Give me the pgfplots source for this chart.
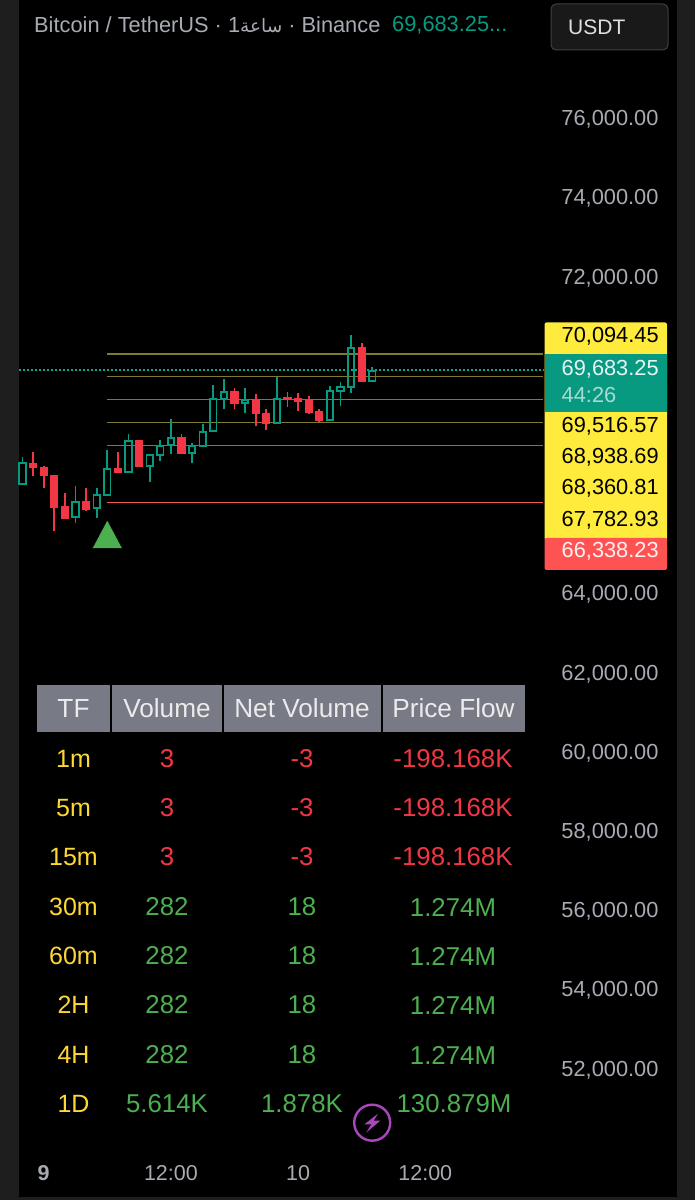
\documentclass[border=0pt]{standalone}
\usepackage{pgfplots}
\pgfplotsset{compat=1.18}
\usepackage{fontspec}
\setmainfont{Liberation Sans}
\newfontfamily\arabicfont[Script=Arabic]{DejaVu Sans}
\TeXXeTstate=1
\definecolor{cgreen}{HTML}{089981}
\definecolor{cred}{HTML}{F23645}
\definecolor{lgreen}{HTML}{4CAF50}
\definecolor{lred}{HTML}{FF5252}
\definecolor{lvl}{HTML}{F05A5A}
\definecolor{cyellow}{HTML}{FFEB3B}
\definecolor{tyellow}{HTML}{FDD835}
\definecolor{olive}{HTML}{7F7A2E}
\definecolor{tgray}{HTML}{A8ABB3}
\definecolor{hgray}{HTML}{787B86}
\definecolor{strip}{HTML}{1E1E1E}
\definecolor{purp}{HTML}{AB47BC}
\newcommand{\fs}[1]{\fontsize{#1}{#1}\selectfont}
\newcommand{\up}[5]{%
  \pgfmathsetmacro\xa{#1-0.3}\pgfmathsetmacro\xb{#1+0.3}%
  \addplot[cgreen,line width=1.8pt] coordinates {(#1,#4) (#1,#2)};
  \addplot[cgreen,line width=1.8pt] coordinates {(#1,#5) (#1,#3)};
  \addplot[draw=cgreen,line width=1.8pt] coordinates {(\xa,#2) (\xb,#2) (\xb,#5) (\xa,#5)} -- cycle;
}
\newcommand{\dn}[5]{%
  \pgfmathsetmacro\xa{#1-0.33}\pgfmathsetmacro\xb{#1+0.33}%
  \addplot[cred,line width=1.8pt] coordinates {(#1,#4) (#1,#3)};
  \addplot[draw=cred,fill=cred,line width=1.2pt] coordinates {(\xa,#2) (\xb,#2) (\xb,#5) (\xa,#5)} -- cycle;
}
\begin{document}
\begin{tikzpicture}
\fill[strip] (0,0) rectangle (695pt,1200pt);
\fill[black] (19pt,3pt) rectangle (676.5pt,1200pt);
\begin{axis}[
  at={(0,0)},anchor=south west,
  scale only axis,width=695pt,height=1200pt,
  xmin=-2.1226,xmax=63.443,ymin=48727,ymax=79030,
  axis line style={draw=none},tick style={draw=none},major tick length=0pt,
  ytick={52000,54000,56000,58000,60000,62000,64000,72000,74000,76000},
  yticklabels={{52,000.00},{54,000.00},{56,000.00},{58,000.00},{60,000.00},{62,000.00},{64,000.00},{72,000.00},{74,000.00},{76,000.00}},
  scaled y ticks=false,
  yticklabel pos=right,
  yticklabel style={anchor=east,xshift=-33pt,yshift=0.6pt,font=\fs{21.8},text=tgray},
  xtick={2,14,26,38},
  xticklabels={\textbf{9},12:00,10,12:00},
  xticklabel style={anchor=center,yshift=26.5pt,font=\fs{21.5},text=tgray},
]
% dotted last price
\addplot[cgreen!85!cyan,line width=1.6pt,dash pattern=on 2pt off 2pt] coordinates {(-0.35,69683.25) (49.1,69683.25)};
% level lines
\addplot[olive,line width=1.5pt] coordinates {(8,70094.45) (49.1,70094.45)};
\addplot[olive,line width=1.5pt] coordinates {(8,69516.57) (49.1,69516.57)};
\addplot[olive,line width=1.5pt] coordinates {(8,68938.69) (49.1,68938.69)};
\addplot[olive,line width=1.5pt] coordinates {(8,68360.81) (49.1,68360.81)};
\addplot[olive,line width=1.5pt] coordinates {(8,67782.93) (49.1,67782.93)};
\addplot[lvl,line width=1.5pt] coordinates {(8,66338.23) (49.1,66338.23)};
% triangle signal
\addplot[only marks,mark=triangle*,mark size=18.9pt,mark options={draw=none,fill=lgreen,xscale=.92}] coordinates {(8,65421)};
% candles: index, open, high, low, close
\up{0}{66799}{67481}{66782}{67329}
\dn{1}{67329}{67607}{67018}{67220}
\dn{2}{67228}{67262}{66715}{67018}
\dn{3}{67009}{67009}{65612}{66227}
\dn{4}{66227}{66572}{65932}{65949}
\up{5}{65966}{66765}{65831}{66345}
\dn{6}{66353}{66698}{66134}{66176}
\up{7}{66193}{66698}{65949}{66521}
\up{8}{66530}{67658}{66521}{67186}
\dn{9}{67186}{67607}{67094}{67111}
\up{10}{67119}{68062}{67111}{67893}
\dn{11}{67902}{67910}{67237}{67254}
\up{12}{67262}{67540}{66858}{67540}
\up{13}{67548}{67910}{67397}{67776}
\up{14}{67792}{68457}{67574}{67961}
\dn{15}{67969}{68079}{67557}{67582}
\up{16}{67599}{67851}{67338}{67759}
\up{17}{67759}{68331}{67750}{68129}
\up{18}{68137}{69299}{68129}{68962}
\up{19}{68962}{69459}{68693}{69122}
\dn{20}{69131}{69240}{68701}{68845}
\up{21}{68845}{69223}{68609}{68937}
\dn{22}{68945}{69072}{68272}{68592}
\dn{23}{68592}{68701}{68179}{68348}
\up{24}{68356}{69501}{68348}{68962}
\dn{25}{68988}{69131}{68760}{68945}
\dn{26}{68954}{69097}{68659}{68903}
\dn{27}{68903}{69030}{68584}{68626}
\dn{28}{68634}{68701}{68373}{68415}
\up{29}{68424}{69282}{68415}{69148}
\up{30}{69148}{69383}{68777}{69249}
\up{31}{69257}{70562}{69106}{70250}
\dn{32}{70259}{70368}{69392}{69409}
\up{33}{69417}{69754}{69409}{69661}
\end{axis}
\begin{scope}[x=1pt,y=-1pt,shift={(0,1200pt)}]
% header
\node[anchor=west,text=tgray,inner sep=0,font=\fs{21.8}] at (34,25) {Bitcoin / TetherUS · 1{\arabicfont\fs{18.5}\beginR ساعة\endR} · Binance};
\node[anchor=west,text=cgreen,inner sep=0,font=\fs{21.8}] at (392,25) {69,683.25...};
\draw[fill=black!90!white,draw=strip!85!white,line width=1pt,rounded corners=5pt] (551,4) rectangle (668,50);
\node[anchor=west,text=white!88!black,inner sep=0,font=\fs{21}] at (568,27) {USDT};
% price labels
\fill[cyellow,rounded corners=2pt] (544.5,322.5) rectangle (667,540);
\fill[cgreen] (544.5,354.3) rectangle (667,412.3);
\fill[lred,rounded corners=2pt] (544.5,538) rectangle (667,570);
\foreach \yy/\lab in {336.7/{70,094.45},426/{69,516.57},457.3/{68,938.69},488.3/{68,360.81},520/{67,782.93}}
  \node[anchor=west,text=black,inner sep=0,font=\fs{21.8}] at (561.5,\yy) {\lab};
\node[anchor=west,text=white!90!cgreen,inner sep=0,font=\fs{21.8}] at (561.5,369) {69,683.25};
\node[anchor=west,text=white!65!cgreen,inner sep=0,font=\fs{21.8}] at (561.5,394.7) {44:26};
\node[anchor=west,text=white!92!lred,inner sep=0,font=\fs{21.8}] at (561.5,551.7) {66,338.23};
% table header
\fill[hgray] (36.7,685) rectangle (110,732.3);
\fill[hgray] (112,685) rectangle (221.7,732.3);
\fill[hgray] (224,685) rectangle (380.7,732.3);
\fill[hgray] (382.7,685) rectangle (525,732.3);
\foreach \xx/\lab in {73.5/TF,167/Volume,302/Net Volume,453.5/Price Flow}
  \node[text=white!92!black,inner sep=0,font=\fs{26.2}] at (\xx,708.5) {\lab};
% table rows
\foreach \yy/\tf in {759/1m,808/5m,857/15m,907/30m,956/60m,1005/2H,1055/4H,1104/1D}
  \node[text=tyellow,inner sep=0,font=\fs{25}] at (73.5,\yy) {\tf};
\foreach \yy in {759,808,857}{
  \node[text=cred,inner sep=0,font=\fs{25.8}] at (167,\yy) {3};
  \node[text=cred,inner sep=0,font=\fs{25.8}] at (302,\yy) {-3};
  \node[text=cred,inner sep=0,font=\fs{25.8}] at (453,\yy) {-198.168K};
}
\foreach \yy in {907,956,1005,1055}{
  \node[text=lgreen,inner sep=0,font=\fs{25.8}] at (167,\yy) {282};
  \node[text=lgreen,inner sep=0,font=\fs{25.8}] at (302,\yy) {18};
  \node[text=lgreen,inner sep=0,font=\fs{25.8}] at (453,\yy) {1.274M};
}
\node[text=lgreen,inner sep=0,font=\fs{25.8}] at (167,1104) {5.614K};
\node[text=lgreen,inner sep=0,font=\fs{25.8}] at (302,1104) {1.878K};
\node[text=lgreen,inner sep=0,font=\fs{25.8}] at (454,1104) {130.879M};
% bolt icon
\draw[purp,line width=2.4pt,fill=black] (372.2,1122.7) circle[radius=18];
\fill[purp] (378,1113.7) -- (364.4,1124.3) -- (371.5,1124.3) -- (366,1132.7) -- (380.3,1120.7) -- (373.7,1120.7) -- cycle;
\end{scope}
\end{tikzpicture}
\end{document}
